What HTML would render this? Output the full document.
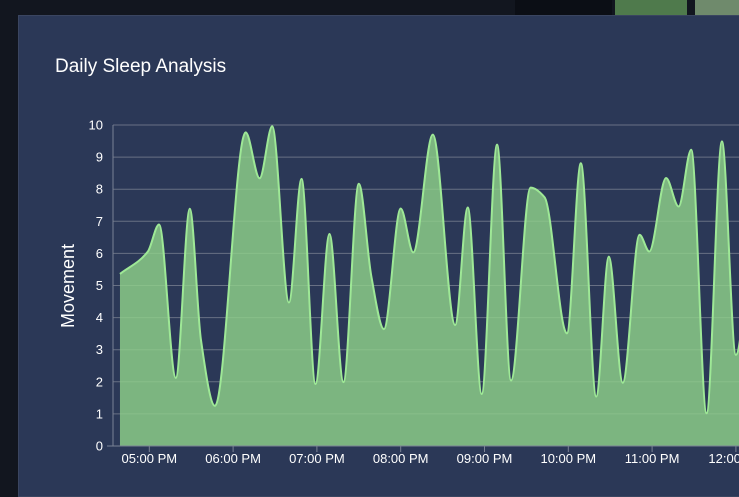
<!DOCTYPE html>
<html><head><meta charset="utf-8">
<style>
html,body{margin:0;padding:0;width:739px;height:477px;overflow:hidden;background:#12161f;font-family:"Liberation Sans",sans-serif;}
#panel{position:absolute;left:18px;top:15px;width:740px;height:480px;background:#2b3857;border:1px solid #3a4560;}
#title{position:absolute;left:36px;top:40px;color:#fff;font-size:19px;}
svg{position:absolute;left:0;top:0;}
</style></head><body>
<div style="position:absolute;left:515px;top:0;width:97px;height:15px;background:#0b0e15"></div>
<div style="position:absolute;left:615px;top:0;width:72px;height:15px;background:#4f7a4c"></div>
<div style="position:absolute;left:695px;top:0;width:44px;height:15px;background:#6f8a6c"></div>
<div id="panel">
<div id="title">Daily Sleep Analysis</div>
</div>
<svg id="chart" width="739" height="477"></svg>
<script>
const minutes=[39,59,67,79,89,97,107,129,139,148,160,169,179,189,199,210,219,228,240,249,263,279,288,298,309,319,333,343,359,369,380,389,399,411,418,430,439,448,459,470,480,490];
const movement=[5.36,6.06,6.9,2.12,7.39,3.3,1.25,9.77,8.34,9.96,4.47,8.32,1.93,6.61,1.99,8.17,5.28,3.64,7.4,6.03,9.7,3.77,7.43,1.62,9.39,2.04,8.05,7.75,3.51,8.81,1.54,5.9,1.97,6.58,6.06,8.35,7.46,9.23,1.02,9.49,2.84,6.0];
const yTicks=[0,1,2,3,4,5,6,7,8,9,10];
const xTickMinutes=[60,120,180,240,300,360,420,480];
const xTickLabels=["05:00 PM","06:00 PM","07:00 PM","08:00 PM","09:00 PM","10:00 PM","11:00 PM","12:00 AM"];
const NS="http://www.w3.org/2000/svg";
const svg=document.getElementById('chart');
const L=113,R=739,T=125,B=446;
const xs=m=>149.3+(m-60)*83.8/60;
const ys=v=>B-(B-T)*v/10;
function mk(t,a){const e=document.createElementNS(NS,t);for(const k in a)e.setAttribute(k,a[k]);svg.appendChild(e);return e;}
const defs=mk('defs',{});
const cp=document.createElementNS(NS,'clipPath');cp.setAttribute('id','clip');
const cr=document.createElementNS(NS,'rect');cr.setAttribute('x',L);cr.setAttribute('y',0);cr.setAttribute('width',R-L);cr.setAttribute('height',B);
cp.appendChild(cr);defs.appendChild(cp);
yTicks.forEach(v=>{
  const g=mk('line',{x1:L,x2:R,y1:ys(v),y2:ys(v),stroke:'#687084','stroke-width':1});
  
  
  const t=mk('text',{x:103,y:ys(v)+4.5,fill:'#fff','font-size':13,'text-anchor':'end','font-family':'Liberation Sans, sans-serif'});
  t.textContent=v;
  
  
});
const P=minutes.map((m,i)=>[xs(m),ys(movement[i])]);
// monotone cubic interpolation (no overshoot)
const n=P.length,dx=[],sl=[],tg=[];
for(let i=0;i<n-1;i++){dx[i]=P[i+1][0]-P[i][0];sl[i]=(P[i+1][1]-P[i][1])/dx[i];}
for(let i=0;i<n;i++){
  if(i===0)tg[i]=sl[0];else if(i===n-1)tg[i]=sl[n-2];
  else if(sl[i-1]*sl[i]<=0)tg[i]=0;
  else{const w1=2*dx[i]+dx[i-1],w2=dx[i]+2*dx[i-1];tg[i]=(w1+w2)/(w1/sl[i-1]+w2/sl[i]);}
}
let d='M'+P[0][0]+','+P[0][1];
for(let i=0;i<n-1;i++){
  const h=dx[i]/3;
  d+=' C'+(P[i][0]+h)+','+(P[i][1]+tg[i]*h)+' '+(P[i+1][0]-h)+','+(P[i+1][1]-tg[i+1]*h)+' '+P[i+1][0]+','+P[i+1][1];
}
const area=mk('path',{d:d+' L'+P[n-1][0]+','+B+' L'+P[0][0]+','+B+' Z',fill:'#8fd18a','fill-opacity':0.82,'clip-path':'url(#clip)'});


const line=mk('path',{d:d,fill:'none',stroke:'#9ee896','stroke-width':2,'clip-path':'url(#clip)'});


const ax=mk('line',{x1:L,x2:L,y1:T,y2:B,stroke:'#7a8294'});


const bx=mk('line',{x1:L-6,x2:R,y1:B,y2:B,stroke:'#7a8294'});


xTickMinutes.forEach((m,i)=>{
  const tk=mk('line',{x1:xs(m),x2:xs(m),y1:B,y2:B+6,stroke:'#7a8294'});
  
  
  const t=mk('text',{x:xs(m),y:B+17,fill:'#fff','font-size':13,'text-anchor':'middle','font-family':'Liberation Sans, sans-serif'});
  t.textContent=xTickLabels[i];
  
  
});
const yt=mk('text',{x:0,y:0,fill:'#fff','font-size':18,'text-anchor':'middle',transform:'translate(74,286) rotate(-90)','font-family':'Liberation Sans, sans-serif'});
yt.textContent='Movement';


</script>
</body></html>
